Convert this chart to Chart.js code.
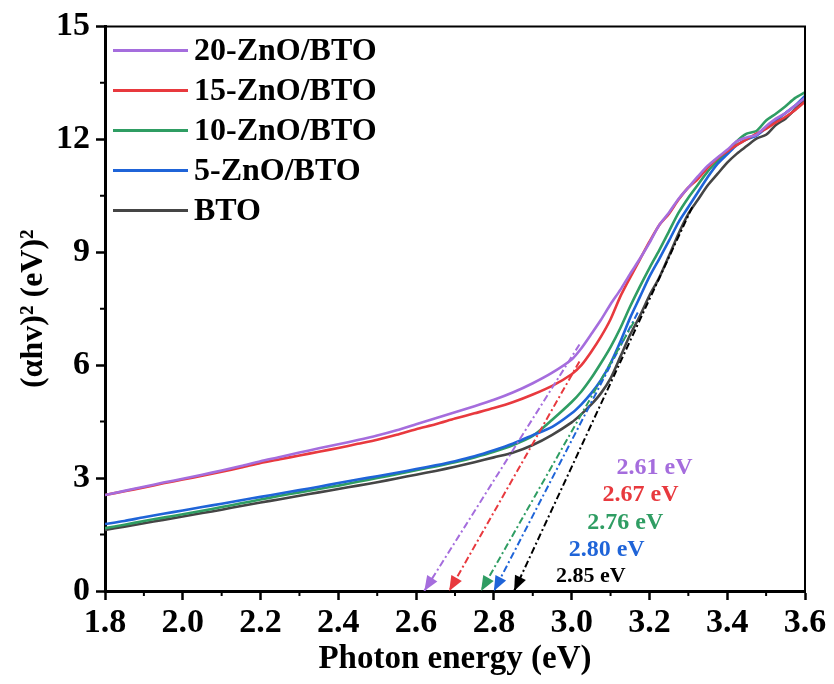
<!DOCTYPE html>
<html><head><meta charset="utf-8">
<script src="https://cdn.jsdelivr.net/npm/chart.js@4.4.0/dist/chart.umd.min.js"></script>
<style>html,body{margin:0;padding:0;background:#fff;}#wrap{width:834px;height:684px;position:relative;}</style>
</head><body><div id="wrap"><canvas id="c"></canvas></div>
<script>
// ---------- data ----------
const energy = [1.80,1.85,1.90,1.95,2.00,2.05,2.10,2.15,2.20,2.25,2.30,2.35,2.40,2.45,2.50,2.55,2.60,2.65,2.70,2.75,2.80,2.85,2.90,2.95,3.00,
  3.025,3.05,3.075,3.10,3.125,3.15,3.175,3.20,3.225,3.25,3.275,3.30,3.325,3.35,3.375,3.40,3.425,3.45,3.475,3.50,3.525,3.55,3.575,3.60];
const zno20 = [2.55,2.66,2.77,2.88,2.98,3.09,3.20,3.32,3.45,3.56,3.68,3.79,3.90,4.01,4.13,4.27,4.43,4.59,4.75,4.91,5.08,5.28,5.52,5.80,6.15,
  6.45,6.82,7.20,7.62,8.00,8.42,8.82,9.25,9.72,10.05,10.42,10.72,11.02,11.30,11.52,11.72,11.95,12.05,12.12,12.35,12.55,12.70,12.90,13.10];
const zno15 = [2.55,2.65,2.75,2.86,2.96,3.06,3.17,3.28,3.40,3.50,3.60,3.70,3.80,3.91,4.02,4.15,4.30,4.43,4.58,4.72,4.86,5.02,5.22,5.45,5.76,
  6.00,6.35,6.75,7.22,7.82,8.32,8.80,9.28,9.72,10.02,10.40,10.72,10.95,11.25,11.50,11.68,11.85,12.00,12.15,12.28,12.45,12.60,12.78,13.00];
const zno10 = [1.67,1.76,1.86,1.95,2.04,2.13,2.23,2.33,2.43,2.53,2.62,2.71,2.80,2.90,3.00,3.10,3.21,3.31,3.42,3.55,3.70,3.88,4.12,4.55,5.02,
  5.30,5.65,6.05,6.48,6.98,7.55,8.08,8.58,9.05,9.55,10.05,10.45,10.80,11.15,11.42,11.65,11.95,12.15,12.22,12.50,12.68,12.88,13.10,13.25];
const zno5 = [1.78,1.86,1.96,2.05,2.14,2.23,2.32,2.41,2.50,2.59,2.68,2.77,2.87,2.96,3.05,3.14,3.24,3.34,3.45,3.58,3.74,3.92,4.14,4.36,4.72,
  4.96,5.25,5.60,6.05,6.62,7.25,7.80,8.35,8.82,9.30,9.80,10.20,10.60,11.00,11.35,11.60,11.85,12.00,12.10,12.30,12.50,12.70,12.90,13.15];
const bto = [1.62,1.71,1.80,1.89,1.98,2.07,2.16,2.26,2.35,2.44,2.53,2.62,2.71,2.80,2.89,2.99,3.09,3.19,3.30,3.42,3.55,3.68,3.88,4.15,4.48,
  4.70,4.95,5.25,5.65,6.22,6.80,7.30,7.85,8.32,8.90,9.50,10.02,10.40,10.78,11.08,11.38,11.62,11.82,12.02,12.12,12.38,12.55,12.80,13.05];

const seriesLabels = ['20-ZnO/BTO','15-ZnO/BTO','10-ZnO/BTO','5-ZnO/BTO','BTO'];
const seriesValues = [zno20, zno15, zno10, zno5, bto];
const seriesColors = ['#a56ddd','#e8393e','#2f9d63','#1f64d8','#454545'];

// Tauc tangent lines: x-intercept (arrow tip) and upper end
const tangentTipX = [2.621,2.685,2.767,2.800,2.852];
const tangentTopX = [3.02,3.02,3.16,3.17,3.31];
const tangentTopY = [6.55,6.10,7.15,7.40,10.20];
const tangentColors = ['#a56ddd','#e8393e','#2f9d63','#1f64d8','#000000'];

const gapLabels = ['2.61 eV','2.67 eV','2.76 eV','2.80 eV','2.85 eV'];
const gapLabelX = [3.213,3.177,3.138,3.090,3.049];
const gapLabelY = [3.27,2.55,1.81,1.09,0.40];

const xTicks = [1.8,2.0,2.2,2.4,2.6,2.8,3.0,3.2,3.4,3.6];
const xMinorTicks = [1.9,2.1,2.3,2.5,2.7,2.9,3.1,3.3,3.5];
const yTicks = [0,3,6,9,12,15];
const yMinorTicks = [1.5,4.5,7.5,10.5,13.5];

const FONT = "'Liberation Serif','Times New Roman',serif";

// ---------- datasets ----------
const drawOrder = [0,1,3,2,4]; // purple on top, then red, blue, green, BTO
const datasets = [];
drawOrder.forEach(i => {
  datasets.push({
    label: seriesLabels[i],
    data: energy.map((e, k) => ({x: e, y: seriesValues[i][k]})),
    borderColor: seriesColors[i],
    borderWidth: 2.6,
    pointRadius: 0,
    tension: 0.25,
    fill: false,
    order: 2
  });
});
tangentTipX.forEach((tx, i) => {
  datasets.push({
    label: 'tangent ' + seriesLabels[i],
    isTangent: true,
    data: [{x: tangentTopX[i], y: tangentTopY[i]}, {x: tx, y: 0}],
    borderColor: tangentColors[i],
    borderWidth: 2,
    borderDash: [7,3,2,3],
    pointRadius: 0,
    fill: false,
    order: 1
  });
});

// ---------- plugins ----------
const decorPlugin = {
  id: 'decor',
  afterDatasetsDraw(chart) {
    const ctx = chart.ctx, xs = chart.scales.x, ys = chart.scales.y;
    chart.data.datasets.forEach(ds => {
      if (!ds.isTangent) return;
      const p0 = ds.data[0], p1 = ds.data[1];
      const x0 = xs.getPixelForValue(p0.x), y0 = ys.getPixelForValue(p0.y);
      const x1 = xs.getPixelForValue(p1.x), y1 = ys.getPixelForValue(p1.y);
      const ang = Math.atan2(y1 - y0, x1 - x0);
      const L = 15, W = 6;
      ctx.save();
      ctx.translate(x1, y1);
      ctx.rotate(ang);
      ctx.beginPath();
      ctx.moveTo(0, 0);
      ctx.lineTo(-L, -W);
      ctx.lineTo(-L, W);
      ctx.closePath();
      ctx.fillStyle = ds.borderColor;
      ctx.fill();
      ctx.restore();
    });
  },
  afterDraw(chart) {
    const ctx = chart.ctx, xs = chart.scales.x, ys = chart.scales.y, a = chart.chartArea;
    ctx.save();
    ctx.strokeStyle = '#000';
    ctx.lineWidth = 2;
    ctx.beginPath();
    ctx.moveTo(a.left, a.top); ctx.lineTo(a.right, a.top); ctx.lineTo(a.right, a.bottom);
    ctx.stroke();
    ctx.beginPath();
    xMinorTicks.forEach(v => { const px = xs.getPixelForValue(v); ctx.moveTo(px, a.bottom); ctx.lineTo(px, a.bottom + 5); });
    yMinorTicks.forEach(v => { const py = ys.getPixelForValue(v); ctx.moveTo(a.left, py); ctx.lineTo(a.left - 5, py); });
    ctx.stroke();
    ctx.textAlign = 'center';
    ctx.textBaseline = 'middle';
    gapLabels.forEach((t, i) => {
      ctx.font = 'bold ' + (i === 4 ? 22 : 24) + 'px ' + FONT;
      ctx.fillStyle = tangentColors[i];
      ctx.fillText(t, xs.getPixelForValue(gapLabelX[i]), ys.getPixelForValue(gapLabelY[i]));
    });
    const lx = a.left + 8, ly = a.top + 24, row = 40;
    ctx.textAlign = 'left';
    ctx.font = 'bold 32px ' + FONT;
    seriesLabels.forEach((t, i) => {
      const y = ly + i * row;
      ctx.strokeStyle = seriesColors[i];
      ctx.lineWidth = 3;
      ctx.beginPath(); ctx.moveTo(lx, y); ctx.lineTo(lx + 75, y); ctx.stroke();
      ctx.fillStyle = '#000';
      ctx.fillText(t, lx + 81, y + 1);
    });
    ctx.restore();
  }
};

// ---------- chart ----------
new Chart(document.getElementById('c'), {
  type: 'line',
  data: { datasets },
  plugins: [decorPlugin],
  options: {
    responsive: true,
    maintainAspectRatio: false,
    animation: false,
    layout: { padding: { top: 26, right: 29, left: 0, bottom: 0 } },
    plugins: { legend: { display: false }, tooltip: { enabled: false } },
    scales: {
      x: {
        type: 'linear', min: 1.8, max: 3.6,
        afterBuildTicks: s => { s.ticks = xTicks.map(v => ({value: v})); },
        afterFit: s => { s.height = 93; },
        grid: { drawOnChartArea: false, drawTicks: true, tickLength: 9, tickWidth: 2.5, tickColor: '#000' },
        border: { display: true, width: 3, color: '#000' },
        ticks: { color: '#000', padding: 3, maxRotation: 0, autoSkip: false,
          font: { family: FONT, size: 34, weight: 'bold' },
          callback: v => Number(v).toFixed(1) },
        title: { display: true, text: 'Photon energy (eV)', color: '#000',
          font: { family: FONT, size: 33, weight: 'bold' }, padding: { top: 0, bottom: 5 } }
      },
      y: {
        type: 'linear', min: 0, max: 15,
        afterBuildTicks: s => { s.ticks = yTicks.map(v => ({value: v})); },
        afterFit: s => { s.width = 105; },
        grid: { drawOnChartArea: false, drawTicks: true, tickLength: 9, tickWidth: 2.5, tickColor: '#000' },
        border: { display: true, width: 3, color: '#000' },
        ticks: { color: '#000', padding: 6, autoSkip: false,
          font: { family: FONT, size: 34, weight: 'bold' },
          callback: v => String(v) },
        title: { display: true, text: '(αhv)² (eV)²', color: '#000',
          font: { family: FONT, size: 32, weight: 'bold' }, padding: { top: 15, bottom: 0 } }
      }
    }
  }
});
</script></body></html>
